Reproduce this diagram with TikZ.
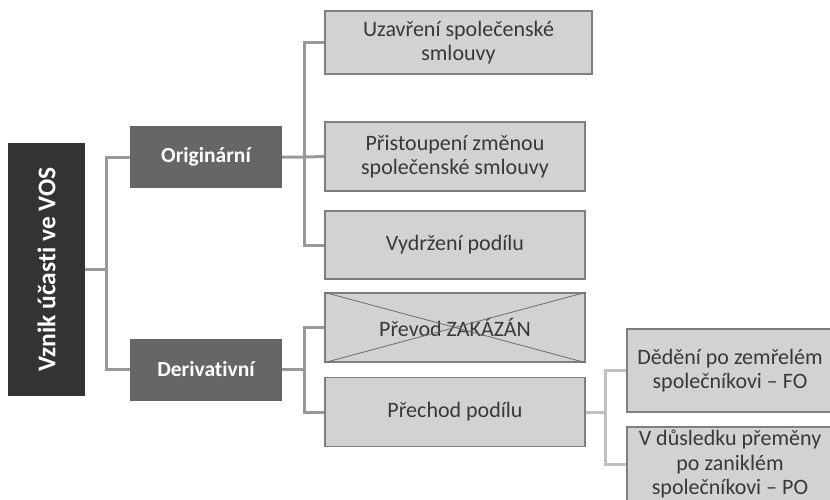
\documentclass[tikz,border=0pt]{standalone}
\usepackage{fontspec}
\usepackage{graphicx}
\setmainfont{Carlito}[Ligatures=NoCommon]
\usetikzlibrary{positioning}
\definecolor{rootgray}{HTML}{333333}
\definecolor{kindgray}{HTML}{666666}
\definecolor{boxgray}{HTML}{D2D2D2}
\definecolor{edgegray}{HTML}{7F7F7F}
\definecolor{linkgray}{HTML}{999999}
\definecolor{sublinkgray}{HTML}{C0C0C0}
\definecolor{textgray}{HTML}{383838}
\tikzset{
	rootbox/.style={fill=rootgray, text=white, minimum width=77pt, minimum height=253pt, inner sep=0, font=\fontsize{25.5}{30}\selectfont\bfseries},
	kindbox/.style={fill=kindgray, text=white, minimum width=152pt, minimum height=62pt, inner sep=0, font=\fontsize{21.5}{25}\selectfont\bfseries},
	leafbox/.style={fill=boxgray, draw=edgegray, line width=1.3pt, text=textgray, align=center, inner sep=0, minimum width=260pt, minimum height=69pt, font=\fontsize{22}{24.5}\selectfont},
	link/.style={draw=linkgray, line width=3pt},
	sublink/.style={draw=sublinkgray, line width=3pt},
	crossline/.style={draw=edgegray!85!black, line width=0.8pt}
}
\begin{document}
\begin{tikzpicture}[x=1pt, y=-1pt]
	\useasboundingbox (0, 0) rectangle (830, 499);
	\node[rootbox] (root) at (46.5, 269.5) {\rotatebox{90}{Vznik účasti ve VOS}};
	\node[kindbox] (orig) at (206, 157) {Originární};
	\node[kindbox] (deriv) at (206, 369.5) {Derivativní};
	\node[leafbox, minimum width=267pt, minimum height=63pt] (uzav) at (458.5, 42.5) {Uzavření společenské\\smlouvy};
	\node[leafbox] (prist) at (455, 156.5) {Přistoupení změnou\\společenské smlouvy};
	\node[leafbox, minimum height=68pt] (vydr) at (455, 245) {Vydržení podílu};
	\node[leafbox] (prevod) at (455, 327.5) {Převod ZAKÁZÁN};
	\draw[crossline] (prevod.north west) -- (prevod.south east) (prevod.south west) -- (prevod.north east);
	\node[leafbox] (prechod) at (455, 412) {Přechod podílu};
	\node[leafbox, minimum width=206pt, minimum height=83pt] (dedeni) at (730, 370.5) {Dědění po zemřelém\\společníkovi -- FO};
	\node[leafbox, minimum width=206pt, minimum height=74pt] (premena) at (730, 464) {V důsledku přeměny\\po zaniklém\\společníkovi -- PO};
	\coordinate[left=23pt of orig.west] (split);
	\coordinate[right=22pt of orig.east] (osplit);
	\coordinate[right=22pt of deriv.east] (dsplit);
	\coordinate[right=20pt of prechod.east] (psplit);
	\draw[link] (root.east) -- (root.east -| split);
	\draw[link] (orig.west) -- (split) |- (deriv.west);
	\draw[link] (orig.east) -- (osplit) -- (prist.west);
	\draw[link] (uzav.west) -| (osplit) |- (vydr.west);
	\draw[link] (deriv.east) -- (dsplit);
	\draw[link] (prevod.west) -| (dsplit) |- (prechod.west);
	\draw[sublink] (prechod.east) -- (psplit);
	\draw[sublink] (dedeni.west) -| (psplit) |- (premena.west);
\end{tikzpicture}
\end{document}
